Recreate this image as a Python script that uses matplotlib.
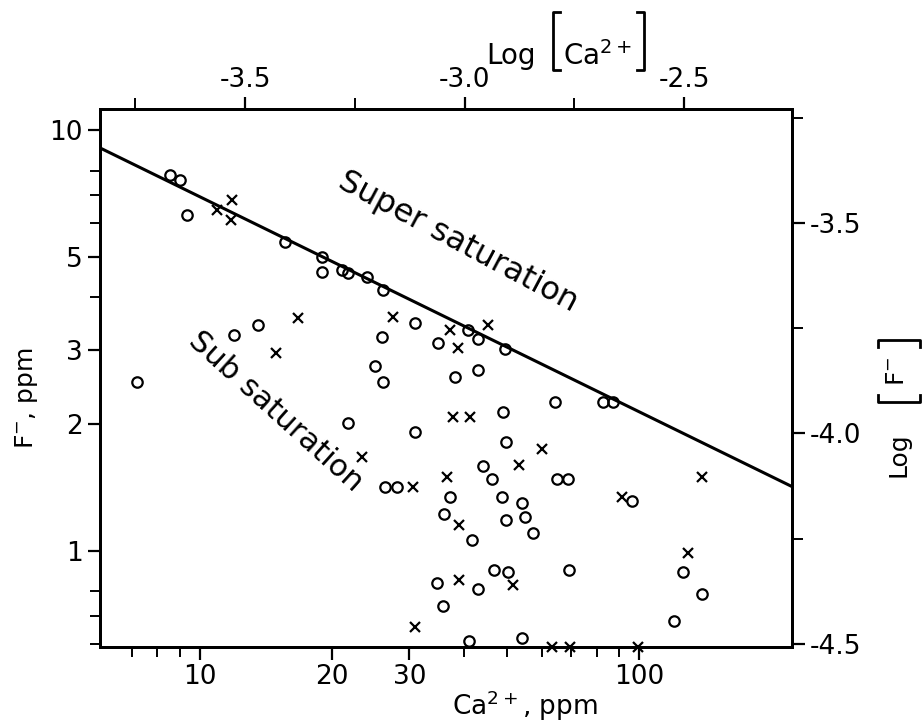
import numpy as np
import matplotlib
matplotlib.use('Agg')
import matplotlib.pyplot as plt
from matplotlib.lines import Line2D
from matplotlib.ticker import FixedLocator, NullFormatter, FixedFormatter

plt.rcParams['font.family'] = ['DejaVu Sans']
plt.rcParams['axes.unicode_minus'] = False

# open circles: Ca2+ (ppm), F- (ppm)
ca_circ = [7.19, 8.55, 9.00, 9.34, 13.56, 11.95, 15.62, 18.96, 18.96, 21.06,
           21.74, 24.01, 26.12, 30.88, 25.98, 34.84, 40.78, 42.98, 49.52, 25.04,
           26.12, 38.09, 42.98, 21.74, 30.88, 26.39, 28.10, 64.36, 82.79, 87.27,
           49.00, 49.78, 44.12, 46.25, 48.75, 54.13, 49.78, 54.99, 57.35, 65.04,
           68.90, 96.40, 35.96, 37.11, 41.65, 69.26, 34.67, 35.77, 42.98, 46.74,
           50.30, 41.00, 54.13, 126.0, 139.2, 120.1]
f_circ = [2.52, 7.82, 7.61, 6.28, 3.44, 3.26, 5.42, 4.99, 4.60, 4.65,
          4.57, 4.48, 4.17, 3.48, 3.22, 3.12, 3.35, 3.19, 3.02, 2.75,
          2.51, 2.58, 2.69, 2.01, 1.91, 1.42, 1.42, 2.26, 2.26, 2.26,
          2.14, 1.81, 1.59, 1.48, 1.34, 1.30, 1.18, 1.20, 1.10, 1.48,
          1.48, 1.31, 1.22, 1.34, 1.06, 0.90, 0.84, 0.74, 0.81, 0.90,
          0.89, 0.61, 0.62, 0.89, 0.79, 0.68]

# crosses
ca_cross = [10.93, 11.83, 11.77, 16.72, 14.90, 27.52, 37.11, 45.29, 38.70, 37.70,
            41.21, 23.39, 30.56, 36.53, 38.90, 60.12, 53.29, 91.48, 139.2, 129.3,
            38.90, 51.64, 30.88, 63.35, 69.62, 99.5]
f_cross = [6.46, 6.82, 6.11, 3.58, 2.95, 3.60, 3.35, 3.44, 3.03, 2.08,
           2.08, 1.67, 1.42, 1.50, 1.15, 1.74, 1.60, 1.34, 1.50, 0.99,
           0.85, 0.83, 0.66, 0.59, 0.59, 0.59]

# saturation line (CaF2 solubility)
ca_line = [5.92, 223.0]
f_line = [9.06, 1.42]

xlim = (5.92, 223.0)
ylim = (0.59, 11.2)
M_CA = 40080.0   # mg/mol
M_F = 19000.0

W, H = 922, 723
fig = plt.figure(figsize=(W / 100, H / 100), dpi=100)
ax = fig.add_axes([0.1085, 0.105, 0.7505, 0.744])
ax.set_xscale('log')
ax.set_yscale('log')
ax.set_xlim(*xlim)
ax.set_ylim(*ylim)

ax.plot(ca_line, f_line, color='black', lw=2.2)
ax.plot(ca_circ, f_circ, 'o', mfc='none', mec='black', mew=1.6, ms=7.5, clip_on=False)
ax.plot(ca_cross, f_cross, 'x', color='black', mew=1.6, ms=7.5, clip_on=False)

for s in ax.spines.values():
    s.set_linewidth(2)

ax.xaxis.set_major_locator(FixedLocator([10, 20, 30, 100]))
ax.xaxis.set_major_formatter(FixedFormatter(['10', '20', '30', '100']))
ax.xaxis.set_minor_locator(FixedLocator([7, 8, 9, 40, 50, 60, 70, 80, 90]))
ax.xaxis.set_minor_formatter(NullFormatter())
ax.yaxis.set_major_locator(FixedLocator([1, 2, 3, 5, 10]))
ax.yaxis.set_major_formatter(FixedFormatter(['1', '2', '3', '5', '10']))
ax.yaxis.set_minor_locator(FixedLocator([0.6, 0.7, 0.8, 4, 6, 7, 8]))
ax.yaxis.set_minor_formatter(NullFormatter())
ax.tick_params(which='major', direction='out', length=9, width=1.6, labelsize=19)
ax.tick_params(which='minor', direction='out', length=7, width=1.4)

# top axis: log molar Ca
axt = ax.twiny()
axt.set_xscale('linear')
axt.set_xlim(np.log10(xlim[0] / M_CA), np.log10(xlim[1] / M_CA))
axt.set_xticks([-3.5, -3.0, -2.5])
axt.set_xticklabels(['-3.5', '-3.0', '-2.5'])
axt.set_xticks([-3.75, -3.25, -2.75], minor=True)
axt.tick_params(which='major', direction='out', length=9, width=1.6, labelsize=19, pad=3)
axt.tick_params(which='minor', direction='out', length=8, width=1.4)
for s in axt.spines.values():
    s.set_linewidth(2)

# right axis: log molar F
axr = ax.twinx()
axr.set_yscale('linear')
axr.set_ylim(np.log10(ylim[0] / M_F), np.log10(ylim[1] / M_F))
axr.set_yticks([-4.5, -4.0, -3.5])
axr.set_yticklabels(['-4.5', '-4.0', '-3.5'])
axr.set_yticks([-4.25, -3.75, -3.25], minor=True)
axr.tick_params(which='major', direction='out', length=9, width=1.6, labelsize=19)
axr.tick_params(which='minor', direction='out', length=8, width=1.4)
for s in axr.spines.values():
    s.set_linewidth(2)


def px(x, y):
    return x / W, 1 - y / H


def bracket(pts):
    xs, ys = zip(*[px(a, b) for a, b in pts])
    fig.add_artist(Line2D(xs, ys, color='black', lw=2, transform=fig.transFigure))


# axis labels
fig.text(*px(525, 706), 'Ca$^{2+}$, ppm', fontsize=19, ha='center', va='center')
fig.text(*px(27, 398), 'F$^{-}$, ppm', fontsize=18, ha='center', va='center', rotation=90)

# top label: Log [Ca2+]
fig.text(*px(511, 64), 'Log', fontsize=20, ha='center', va='baseline')
fig.text(*px(563, 65), 'Ca$^{2+}$', fontsize=20, ha='left', va='baseline')
bracket([(560, 12), (553, 12), (553, 70), (560, 70)])
bracket([(637, 12), (644, 12), (644, 70), (637, 70)])

# right label: Log [F-]
fig.text(*px(898, 455), 'Log', fontsize=18, ha='center', va='center', rotation=90)
fig.text(*px(897, 371), 'F$^{-}$', fontsize=18, ha='center', va='center', rotation=90)
bracket([(878, 395), (878, 402), (920, 402), (920, 395)])
bracket([(878, 347), (878, 340), (920, 340), (920, 347)])

# region labels
fig.text(*px(458, 242), 'Super saturation', fontsize=23,
         rotation=-28, ha='center', va='center')
fig.text(*px(276, 412), 'Sub saturation', fontsize=22,
         rotation=-42, ha='center', va='center')

fig.savefig('out.png', dpi=100)
